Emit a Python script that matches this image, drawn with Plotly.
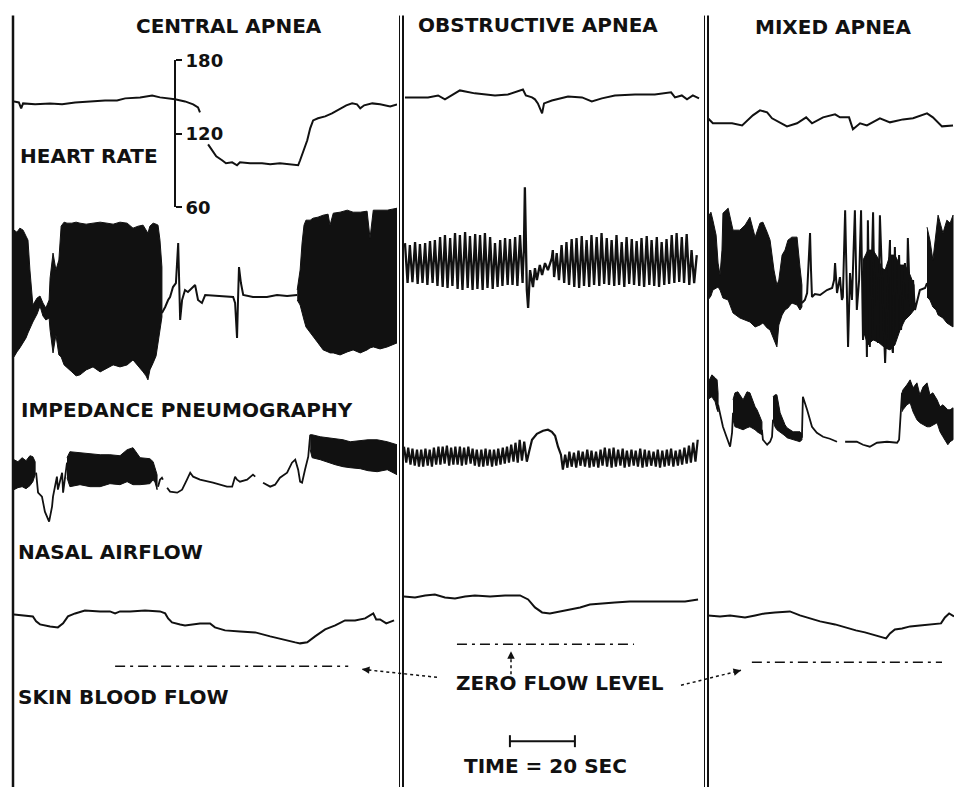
import plotly.graph_objects as go

# ------------------------------------------------------------------ data
PANELS = ["CENTRAL APNEA", "OBSTRUCTIVE APNEA", "MIXED APNEA"]
PANEL_SECONDS = [117.8, 91.1, 75.7]          # recording length shown per panel (s)
HR_TICKS = [60, 120, 180]                    # heart-rate scale (beats/min)
SCALE_BAR_SEC = 20                           # time calibration bar

# heart rate (t [s], beats/min); (None, None) = pen lift
HR_CENTRAL = [(0, 146.5), (1.5, 145.7), (2.2, 140.8), (2.8, 144.9), (6.5, 144.1), (11.1, 144.9),
              (14.8, 144.1), (18.8, 145.7), (23.4, 146.5), (28.0, 147.3), (31.7, 147.3), (34.2, 149.0),
              (38.8, 149.8), (41.2, 150.6), (42.5, 151.4), (44.9, 149.8), (49.5, 148.2), (52.6, 146.5),
              (55.1, 144.1), (56.6, 141.6), (57.2, 137.6), (None, None), (59.7, 111.4), (60.9, 106.5),
              (62.2, 101.6), (64.0, 98.4), (65.2, 95.9), (67.1, 96.7), (68.6, 94.3), (69.5, 96.7),
              (72.6, 95.9), (76.3, 95.9), (78.8, 95.1), (81.8, 95.9), (84.9, 95.1), (87.4, 94.3),
              (88.0, 98.4), (88.9, 104.9), (90.2, 114.7), (91.1, 124.5), (92.0, 131.0), (93.5, 132.7),
              (95.7, 134.3), (97.8, 136.7), (100.3, 140.8), (102.2, 143.3), (104.0, 144.9), (105.5, 144.1),
              (106.5, 140.8), (107.7, 143.3), (110.2, 144.9), (112.6, 144.1), (115.7, 142.4), (117.8, 144.1)]
HR_OBSTRUCTIVE = [(0.3, 149.8), (7.4, 149.8), (10.5, 151.4), (12.6, 148.2), (17.2, 155.5), (21.8, 153.1),
                  (28.0, 151.4), (32.0, 152.2), (36.6, 156.3), (37.5, 151.4), (39.4, 149.8), (40.3, 148.2),
                  (41.2, 144.9), (42.5, 136.7), (43.1, 144.9), (45.5, 147.3), (50.5, 150.6), (54.8, 149.8),
                  (57.8, 146.5), (60.9, 149.0), (64.9, 151.4), (71.1, 152.2), (77.2, 152.2), (82.2, 153.9),
                  (83.4, 149.8), (85.5, 151.4), (87.1, 148.2), (88.9, 151.4), (90.8, 149.0)]
HR_MIXED = [(0.0, 132.7), (1.5, 128.6), (7.4, 128.6), (10.5, 126.9), (13.8, 135.1), (16.0, 139.2),
            (18.2, 137.6), (19.7, 132.7), (24.3, 126.1), (27.4, 128.6), (30.2, 133.5), (32.0, 128.6),
            (35.4, 133.5), (39.1, 135.9), (40.6, 133.5), (43.4, 133.5), (44.6, 123.7), (46.8, 128.6),
            (48.9, 126.9), (52.9, 132.7), (56.0, 129.4), (60.0, 131.8), (63.1, 132.7), (67.4, 136.7),
            (69.2, 133.5), (72.0, 126.1), (75.4, 126.9)]

# impedance pneumography (arbitrary units)
# dense-oscillation stretches as envelopes (t, upper, lower)
IMP_CENTRAL_BAND1 = [(0.0, 65, -62), (0.9, 63, -57), (1.8, 67, -53), (2.8, 65, -48), (3.7, 59, -43),
                     (4.3, 55, -38), (4.9, 25, -33), (5.8, -10, -27), (7.1, -3, -19), (8.0, -1, -11),
                     (8.9, -8, -21), (9.8, -13, -25), (10.8, -5, -23), (11.1, 17, -35), (12.0, 42, -58),
                     (12.9, 25, -40), (13.8, 35, -60), (14.5, 69, -62), (15.4, 73, -70), (16.3, 72, -72),
                     (17.8, 72, -77), (19.1, 73, -81), (20.3, 72, -80), (22.2, 71, -75), (24.3, 72, -72),
                     (26.5, 73, -77), (28.6, 72, -73), (30.5, 71, -70), (32.6, 73, -72), (34.8, 72, -70),
                     (36.6, 67, -65), (38.2, 69, -71), (39.7, 70, -77), (40.6, 65, -81), (41.2, 62, -85),
                     (41.8, 69, -75), (42.8, 72, -68), (43.7, 71, -61), (44.3, 70, -48), (44.9, 55, -35),
                     (45.5, 28, -22)]
IMP_CENTRAL_APNEA = [(45.5, -18), (46.5, -12), (47.4, -5), (48.0, -2), (48.9, 8), (49.8, 12), (50.5, 52),
                     (51.1, -25), (51.7, -5), (52.6, 5), (53.5, 3), (54.8, 7), (55.7, 10), (56.6, -5),
                     (57.8, -8), (58.8, 0), (62.5, -1), (67.4, -2), (68.0, -8), (68.6, -43), (68.9, -5),
                     (69.2, 28), (69.8, 12), (70.5, 0), (73.5, -2), (77.8, -2), (80.9, 0), (84.0, -1),
                     (87.1, 0)]
IMP_CENTRAL_BAND2 = [(87.1, 5, -5), (88.0, 25, -10), (88.6, 52, -18), (89.2, 70, -25), (89.8, 75, -32),
                     (91.1, 75, -38), (92.0, 77, -42), (93.5, 78, -48), (95.1, 80, -55), (96.6, 81, -57),
                     (97.2, 70, -58), (98.2, 82, -58), (100.3, 83, -60), (102.5, 85, -57), (104.3, 83, -55),
                     (106.5, 83, -58), (108.6, 84, -55), (109.5, 57, -53), (110.5, 85, -52), (112.6, 85, -54),
                     (114.8, 85, -52), (116.3, 86, -50), (117.8, 87, -48)]
# obstructive: breath-by-breath extremes
IMP_OBS_T1 = [0.3, 1.1, 1.8, 2.6, 3.4, 4.2, 4.9, 5.7, 6.5, 7.2, 8.0, 8.8, 9.5, 10.3, 11.1, 11.9, 12.6,
              13.4, 14.2, 14.9, 15.7, 16.5, 17.2, 18.0, 18.8, 19.6, 20.3, 21.1, 21.9, 22.6, 23.4, 24.2,
              24.9, 25.7, 26.5, 27.3, 28.0, 28.8, 29.6, 30.3, 31.1, 31.9, 32.6, 33.4, 34.2, 34.9, 35.7, 36.5]
IMP_OBS_V1 = [52, 12, 50, 13, 53, 11, 51, 12, 52, 10, 54, 12, 55, 9, 58, 8, 60, 7, 57, 9,
              62, 6, 60, 5, 63, 7, 59, 5, 61, 6, 60, 5, 62, 7, 58, 6, 52, 8, 55, 9,
              57, 10, 56, 10, 58, 9, 60, 12]
IMP_OBS_MID = [(36.6, 25), (36.9, 45), (37.2, 108), (37.5, 65), (37.8, 5), (38.2, -13), (38.8, 25),
               (39.7, 8), (40.3, 27), (40.9, 15), (41.8, 30), (42.5, 20), (43.4, 32), (44.3, 25),
               (44.9, 31), (45.5, 37), (45.8, 45)]
IMP_OBS_T2 = [46.2, 47.0, 47.7, 48.5, 49.3, 50.0, 50.8, 51.6, 52.4, 53.1, 53.9, 54.7, 55.4, 56.2, 57.0,
              57.7, 58.5, 59.3, 60.1, 60.8, 61.6, 62.4, 63.1, 63.9, 64.7, 65.4, 66.2, 67.0, 67.8, 68.5,
              69.3, 70.1, 70.8, 71.6, 72.4, 73.1, 73.9, 74.7, 75.5, 76.2, 77.0, 77.8, 78.5, 79.3, 80.1,
              80.8, 81.6, 82.4, 83.2, 83.9, 84.7, 85.5, 86.2, 87.0, 87.8, 88.5, 89.3, 90.1]
IMP_OBS_V2 = [18, 42, 15, 50, 12, 53, 10, 56, 8, 57, 7, 59, 9, 55, 8, 60, 10, 58, 9, 62,
              11, 57, 10, 55, 9, 60, 10, 53, 8, 58, 11, 56, 10, 54, 9, 57, 8, 59, 10, 55,
              9, 58, 8, 53, 10, 56, 11, 60, 12, 62, 13, 58, 12, 61, 10, 45, 12, 40]
IMP_MIXED_BAND1 = [(0.0, 78, -5), (0.9, 83, -1), (1.5, 75, 5), (2.5, 60, 7), (3.1, 32, 8), (3.7, 20, 5),
                   (4.3, 45, 0), (4.6, 82, -3), (6.2, 87, -5), (7.7, 65, -18), (9.8, 65, -23),
                   (11.4, 70, -25), (12.9, 78, -27), (14.5, 58, -32), (16.0, 72, -30), (16.9, 73, -28),
                   (18.2, 63, -33), (19.1, 55, -35), (20.3, 25, -45), (21.2, 10, -52), (21.8, 15, -30),
                   (22.8, 40, -20), (23.7, 45, -15), (24.6, 55, -13), (25.8, 58, -8), (27.4, 58, -10),
                   (28.3, 28, -15), (28.9, 10, -12)]
IMP_MIXED_LINE = [(28.9, -8), (29.8, -5), (30.5, 2), (31.1, 35), (31.4, 62), (31.7, 25), (32.0, -2),
                  (32.9, 1), (34.5, 0), (36.6, 5), (38.2, 7), (38.8, 15), (39.1, 32), (39.7, 2), (40.6, 18),
                  (41.2, -5), (41.5, -2), (42.2, 85), (43.1, -52), (43.7, 22), (44.3, -5), (45.2, 85),
                  (45.8, -15), (46.5, 15), (47.1, 85), (47.7, -45), (48.6, -5), (48.9, -62), (49.2, 75),
                  (49.8, -52), (50.8, 83), (51.4, -38), (52.0, -5), (52.3, -48), (52.9, 80), (53.8, -5),
                  (54.5, -68), (55.4, 12), (56.0, 55), (56.3, -45), (56.9, -58), (57.5, 48), (58.2, -38),
                  (58.8, 40), (59.4, -35), (59.7, -22), (60.3, 15), (60.6, 32), (61.2, -5), (61.5, 57),
                  (62.2, -12), (63.1, 15), (63.7, -15), (64.3, -8), (65.2, 5), (66.8, 7), (67.4, 12)]
IMP_MIXED_BAND2 = [(47.7, 35, -35), (49.2, 45, -50), (50.8, 45, -45), (52.3, 37, -47), (53.5, 27, -50),
                   (54.5, 25, -53), (56.0, 40, -55), (57.5, 40, -50), (59.1, 30, -35), (60.6, 30, -25),
                   (62.2, 20, -20), (63.4, 10, -15)]
IMP_MIXED_BAND3 = [(67.4, 68, -2), (68.3, 55, -5), (69.2, 35, -12), (70.2, 65, -15), (70.8, 80, -20),
                   (72.3, 62, -23), (73.5, 75, -28), (74.5, 72, -30), (75.4, 80, -32)]

# nasal airflow (arbitrary units)
NAS_CENTRAL_BAND1 = [(0.0, 0, -30), (1.2, -2, -28), (2.5, 2, -27), (3.7, -1, -29), (4.9, 4, -26),
                     (5.8, 3, -22), (6.5, -2, -15)]
NAS_CENTRAL_LINE1 = [(6.8, -13), (7.4, -33), (8.6, -37), (9.5, -52), (10.8, -62), (11.7, -47), (12.0, -37),
                     (13.2, -17), (13.5, -30), (14.8, -13), (15.1, -33), (15.7, -17), (16.3, -3)]
NAS_CENTRAL_BAND2 = [(16.3, 2, -18), (17.2, 8, -27), (20.3, 7, -25), (23.4, 6, -27), (26.5, 5, -27),
                     (29.5, 5, -24), (32.6, 4, -25), (34.8, 10, -22), (36.6, 12, -25), (38.8, 2, -25),
                     (41.8, 1, -24), (42.8, -2, -20), (43.4, -8, -23), (44.0, -15, -30)]
NAS_CENTRAL_LINE2 = [(44.3, -27), (44.9, -20), (45.5, -18), (45.8, -20), (None, None), (47.1, -28),
                     (48.0, -32), (50.2, -33), (51.7, -30), (53.2, -20), (54.2, -13), (55.1, -17),
                     (57.2, -20), (61.2, -23), (65.5, -27), (67.1, -27), (68.0, -17), (68.6, -20),
                     (69.5, -22), (71.7, -20), (72.6, -17), (73.5, -15), (74.2, -17), (None, None),
                     (76.6, -23), (78.8, -27), (80.3, -25), (81.8, -18), (84.0, -13), (85.5, -3), (86.5, 0),
                     (87.4, -10), (88.0, -22), (88.6, -23), (89.5, -10), (90.5, 3), (91.1, 25)]
NAS_CENTRAL_BAND3 = [(91.1, 25, 10), (91.7, 25, 2), (94.2, 23, 0), (96.3, 22, -2), (98.8, 21, -5),
                     (101.2, 20, -7), (103.4, 18, -8), (106.5, 19, -9), (108.9, 20, -11), (111.7, 20, -12),
                     (114.8, 18, -10), (117.8, 15, -15)]
NAS_OBS_T1 = [0.0, 0.7, 1.3, 2.0, 2.6, 3.3, 4.0, 4.6, 5.3, 5.9, 6.6, 7.3, 7.9, 8.6, 9.2, 9.9, 10.6, 11.2,
              11.9, 12.5, 13.2, 13.9, 14.5, 15.2, 15.8, 16.5, 17.2, 17.8, 18.5, 19.1, 19.8, 20.5, 21.1,
              21.8, 22.4, 23.1, 23.8, 24.4, 25.1, 25.7, 26.4, 27.1, 27.7, 28.4, 29.0, 29.7, 30.4, 31.0,
              31.7, 32.3, 33.0, 33.7, 34.3, 35.0, 35.6, 36.3, 37.0]
NAS_OBS_V1 = [13, -3, 12, -5, 11, -6, 10, -7, 10, -7, 11, -6, 10, -7, 12, -5, 13, -5, 13, -4,
              14, -6, 12, -5, 13, -5, 13, -6, 12, -5, 13, -4, 11, -6, 10, -7, 10, -7, 11, -6,
              10, -7, 10, -6, 11, -5, 12, -4, 13, -3, 15, -2, 17, -3, 20, -1, 18]
NAS_OBS_MID = [(37.8, -2), (38.5, 8), (39.4, 20), (40.9, 26), (42.8, 29), (44.3, 30), (45.5, 28),
               (46.5, 24), (47.4, 13), (48.3, 5)]
NAS_OBS_T2 = [48.9, 49.6, 50.3, 50.9, 51.6, 52.3, 53.0, 53.7, 54.3, 55.0, 55.7, 56.4, 57.1, 57.7, 58.4,
              59.1, 59.8, 60.5, 61.1, 61.8, 62.5, 63.2, 63.9, 64.5, 65.2, 65.9, 66.6, 67.3, 67.9, 68.6,
              69.3, 70.0, 70.7, 71.3, 72.0, 72.7, 73.4, 74.1, 74.7, 75.4, 76.1, 76.8, 77.5, 78.1, 78.8,
              79.5, 80.2, 80.9, 81.5, 82.2, 82.9, 83.6, 84.3, 84.9, 85.6, 86.3, 87.0, 87.7, 88.3, 89.0,
              89.7, 90.4]
NAS_OBS_V2 = [-10, 5, -8, 8, -7, 7, -8, 9, -6, 8, -7, 10, -8, 9, -7, 8, -8, 10, -6, 12,
              -7, 11, -8, 12, -7, 10, -6, 11, -8, 9, -7, 10, -6, 9, -7, 11, -8, 10, -7, 9,
              -6, 8, -7, 10, -8, 9, -7, 10, -6, 11, -7, 9, -6, 10, -5, 12, -4, 14, -3, 17,
              -2, 20]
NAS_MIXED_BAND1 = [(0.0, 77, 60), (0.6, 82, 62), (1.2, 85, 63), (2.2, 82, 58), (2.8, 80, 50), (3.1, 67, 48)]
NAS_MIXED_LINE1 = [(3.1, 55), (3.7, 47), (4.6, 33), (5.8, 22), (6.8, 13), (7.4, 27), (7.7, 47)]
NAS_MIXED_BAND2 = [(7.7, 60, 40), (8.3, 67, 33), (9.2, 68, 32), (10.8, 60, 30), (12.0, 68, 32),
                   (12.9, 67, 33), (14.5, 53, 30), (15.1, 50, 28), (16.0, 43, 26), (16.6, 38, 25)]
NAS_MIXED_LINE2 = [(16.6, 30), (16.9, 20), (18.2, 15), (19.1, 18), (19.7, 23), (20.0, 40)]
NAS_MIXED_BAND3 = [(20.0, 63, 40), (20.6, 65, 33), (21.2, 65, 30), (22.2, 47, 28), (23.7, 35, 24),
                   (24.3, 32, 22), (26.2, 28, 20), (28.3, 28, 18), (28.9, 26, 20)]
NAS_MIXED_LINE3 = [(28.9, 22), (29.2, 63), (30.5, 50), (32.0, 33), (33.5, 27), (35.4, 23), (37.5, 21),
                   (39.7, 18), (None, None), (42.2, 18), (45.8, 18), (47.7, 15), (49.8, 13), (52.0, 17),
                   (55.1, 18), (58.2, 17), (58.8, 20), (59.7, 67)]
NAS_MIXED_BAND4 = [(59.7, 67, 48), (60.0, 70, 50), (61.2, 75, 55), (62.2, 80, 57), (63.1, 72, 48),
                   (64.3, 77, 40), (65.2, 65, 37), (66.2, 73, 35), (67.4, 77, 33), (68.3, 65, 33),
                   (69.2, 67, 35), (70.5, 60, 37), (71.4, 53, 28), (72.3, 55, 23), (73.8, 50, 15),
                   (74.5, 50, 18), (75.4, 52, 20)]

# skin blood flow (arbitrary units above each panel's zero-flow level)
SBF_CENTRAL = [(0.0, 52), (5.8, 50), (6.8, 45), (8.0, 42), (11.1, 40), (13.5, 39), (15.1, 43), (16.6, 50),
               (18.8, 53), (21.8, 56), (26.5, 55), (29.5, 55), (31.1, 53), (32.6, 55), (35.7, 55),
               (40.3, 56), (44.9, 55), (46.5, 53), (47.4, 48), (48.6, 44), (51.1, 42), (52.6, 41),
               (57.2, 43), (60.3, 43), (61.8, 39), (64.9, 36), (69.5, 35), (74.2, 34), (78.8, 30),
               (83.4, 26), (86.5, 24), (88.0, 23), (90.2, 24), (92.6, 30), (95.7, 37), (98.8, 41),
               (101.8, 46), (104.9, 46), (108.0, 48), (110.5, 53), (111.4, 47), (112.6, 47), (114.5, 43),
               (116.9, 46)]
SBF_OBSTRUCTIVE = [(0.0, 48), (3.4, 47), (6.5, 49), (9.5, 50), (12.6, 47), (15.7, 46), (18.8, 48),
                   (21.8, 49), (26.5, 48), (31.1, 49), (35.7, 49), (38.2, 45), (40.3, 37), (42.5, 32),
                   (44.9, 31), (48.0, 33), (51.1, 35), (54.2, 37), (57.2, 40), (60.3, 41), (64.9, 42),
                   (69.5, 43), (75.7, 43), (81.8, 43), (86.5, 43), (90.5, 45)]
SBF_MIXED = [(0.0, 47), (3.7, 46), (6.8, 47), (11.4, 45), (14.5, 47), (17.5, 49), (20.6, 50), (25.2, 51),
             (28.3, 47), (31.4, 44), (34.5, 41), (39.1, 38), (42.2, 35), (45.5, 32), (48.3, 30),
             (51.4, 27), (54.8, 24), (56.0, 29), (57.5, 33), (59.7, 34), (62.2, 36), (65.2, 37),
             (68.3, 38), (71.7, 39), (72.9, 45), (74.2, 49), (75.7, 46)]
ZERO_FLOW_LEVEL = [0, 0, 0]
ZERO_FLOW_START = [31.1, 16.3, 13.5]
ZERO_FLOW_END = [102.8, 70.8, 72.0]

# ------------------------------------------------------------------ figure
W, H = 954, 797
FONT = "DejaVu Sans"
INK = "#111111"
# the page photograph is squeezed slightly in height; lay out so the photo lands on target
V_SCALE, V_SHIFT = 0.9755, 10.7


def px(x):
    return x / W


def py(y):
    return 1 - (y / V_SCALE - V_SHIFT) / H


traces = []


def line(pairs, xa, ya, width=2.0):
    traces.append(go.Scatter(x=[p[0] for p in pairs], y=[p[1] for p in pairs], mode="lines",
                             line=dict(color=INK, width=width), xaxis=xa, yaxis=ya,
                             hoverinfo="skip", connectgaps=False))


def band(triples, xa, ya):
    t = [p[0] for p in triples]
    up = [p[1] for p in triples]
    lo = [p[2] for p in triples]
    traces.append(go.Scatter(x=t + t[::-1], y=up + lo[::-1], mode="lines", fill="toself",
                             fillcolor=INK, line=dict(color=INK, width=1), xaxis=xa, yaxis=ya,
                             hoverinfo="skip"))


# heart rate
line(HR_CENTRAL, "x", "y")
line(HR_OBSTRUCTIVE, "x2", "y")
line(HR_MIXED, "x3", "y")

# impedance pneumography
band(IMP_CENTRAL_BAND1, "x", "y2")
line(IMP_CENTRAL_APNEA, "x", "y2")
band(IMP_CENTRAL_BAND2, "x", "y2")
obs_imp = list(zip(IMP_OBS_T1, IMP_OBS_V1)) + IMP_OBS_MID + list(zip(IMP_OBS_T2, IMP_OBS_V2))
line(obs_imp, "x2", "y2", 2.3)
band(IMP_MIXED_BAND1, "x3", "y2")
band(IMP_MIXED_BAND2, "x3", "y2")
line(IMP_MIXED_LINE, "x3", "y2", 2.0)
band(IMP_MIXED_BAND3, "x3", "y2")

# nasal airflow
band(NAS_CENTRAL_BAND1, "x", "y3")
line(NAS_CENTRAL_LINE1, "x", "y3", 1.8)
band(NAS_CENTRAL_BAND2, "x", "y3")
line(NAS_CENTRAL_LINE2, "x", "y3", 1.8)
band(NAS_CENTRAL_BAND3, "x", "y3")
obs_nas = list(zip(NAS_OBS_T1, NAS_OBS_V1)) + NAS_OBS_MID + list(zip(NAS_OBS_T2, NAS_OBS_V2))
line(obs_nas, "x2", "y3", 2.2)
band(NAS_MIXED_BAND1, "x3", "y3")
line(NAS_MIXED_LINE1, "x3", "y3", 1.8)
band(NAS_MIXED_BAND2, "x3", "y3")
line(NAS_MIXED_LINE2, "x3", "y3", 1.8)
band(NAS_MIXED_BAND3, "x3", "y3")
line(NAS_MIXED_LINE3, "x3", "y3", 1.8)
band(NAS_MIXED_BAND4, "x3", "y3")

# skin blood flow + zero-flow reference
sbf_axes = [("x", "y4"), ("x2", "y5"), ("x3", "y6")]
for pairs, (xa, ya) in zip([SBF_CENTRAL, SBF_OBSTRUCTIVE, SBF_MIXED], sbf_axes):
    line(pairs, xa, ya, 2.0)
for i, (xa, ya) in enumerate(sbf_axes):
    traces.append(go.Scatter(x=[ZERO_FLOW_START[i], ZERO_FLOW_END[i]],
                             y=[ZERO_FLOW_LEVEL[i], ZERO_FLOW_LEVEL[i]], mode="lines",
                             line=dict(color=INK, width=1.5, dash="10px,5px,3px,5px"),
                             xaxis=xa, yaxis=ya, hoverinfo="skip"))

fig = go.Figure(traces)

hidden = dict(visible=False, showgrid=False, zeroline=False, fixedrange=True)
x_pix = [(14, 397), (404, 700), (708, 954)]
layout = dict(width=W, height=H, margin=dict(l=0, r=0, t=0, b=0), paper_bgcolor="white",
              plot_bgcolor="rgba(0,0,0,0)", showlegend=False)
for i, key in enumerate(["xaxis", "xaxis2", "xaxis3"]):
    layout[key] = dict(hidden, domain=[px(x_pix[i][0]), px(x_pix[i][1])], range=[0, PANEL_SECONDS[i]])

layout["yaxis"] = dict(domain=[py(207), py(60)], range=[HR_TICKS[0], HR_TICKS[-1]], anchor="free",
                       position=px(175), side="right", showline=True, linecolor=INK, linewidth=2,
                       ticks="outside", ticklen=6, tickwidth=2, tickcolor=INK, tickvals=HR_TICKS,
                       tickfont=dict(family=FONT, size=18, color=INK, weight="bold"),
                       showgrid=False, zeroline=False, fixedrange=True)
layout["yaxis2"] = dict(hidden, domain=[py(390), py(180)], range=[-95, 115])
layout["yaxis3"] = dict(hidden, domain=[py(530), py(370)], range=[-70, 90])
layout["yaxis4"] = dict(hidden, domain=[py(685), py(575)], range=[-18, 92])
layout["yaxis5"] = dict(hidden, domain=[py(685), py(575)], range=[-40, 70])
layout["yaxis6"] = dict(hidden, domain=[py(685), py(575)], range=[-22, 88])
fig.update_layout(**layout)

# text
def label(text, x, y, anchor="left", size=20):
    fig.add_annotation(text=text, x=px(x), y=py(y), xref="paper", yref="paper", xanchor=anchor,
                       yanchor="middle", showarrow=False,
                       font=dict(family=FONT, size=size, color=INK, weight="bold"))


label(PANELS[0], 229, 25, "center")
label(PANELS[1], 538, 24, "center")
label(PANELS[2], 833, 26, "center")
label("HEART RATE", 18, 156)
label("IMPEDANCE PNEUMOGRAPHY", 19, 410)
label("NASAL AIRFLOW", 16, 552)
label("SKIN BLOOD FLOW", 16, 698)
label("ZERO FLOW LEVEL", 560, 684, "center")
label(f"TIME = {SCALE_BAR_SEC} SEC", 545, 767, "center")

# panel separators
for x, w in [(13, 2.5), (399.5, 1), (403, 2), (704.5, 1), (708, 2)]:
    fig.add_shape(type="line", xref="paper", yref="paper", x0=px(x), x1=px(x), y0=0, y1=py(15),
                  line=dict(color=INK, width=w))

# time calibration bar (drawn on the obstructive panel's time axis)
bar_t0 = 32.6
fig.add_shape(type="line", xref="x2", yref="paper", x0=bar_t0, x1=bar_t0 + SCALE_BAR_SEC,
              y0=py(742), y1=py(742), line=dict(color=INK, width=2))
for tt in (bar_t0, bar_t0 + SCALE_BAR_SEC):
    fig.add_shape(type="line", xref="x2", yref="paper", x0=tt, x1=tt, y0=py(748), y1=py(736),
                  line=dict(color=INK, width=2))

# dotted pointers from "ZERO FLOW LEVEL" to the three zero lines
pointers = [((437, 678), (362, 670)), ((511, 675), (511, 652)), ((681, 686), (741, 671))]
for (x0, y0), (x1, y1) in pointers:
    fig.add_shape(type="line", xref="paper", yref="paper", x0=px(x0), y0=py(y0), x1=px(x1), y1=py(y1),
                  line=dict(color=INK, width=1.5, dash="dot"))
    dx, dy = x0 - x1, y0 - y1
    n = (dx * dx + dy * dy) ** 0.5
    fig.add_annotation(x=px(x1), y=py(y1), xref="paper", yref="paper", text="", showarrow=True,
                       ax=dx / n * 9, ay=dy / n * 9, arrowhead=2, arrowsize=1, arrowwidth=1.5,
                       arrowcolor=INK)

fig.write_html("out.html", config={"displayModeBar": False},
               post_script="document.body.style.margin='0px';document.body.style.overflow='hidden';")
